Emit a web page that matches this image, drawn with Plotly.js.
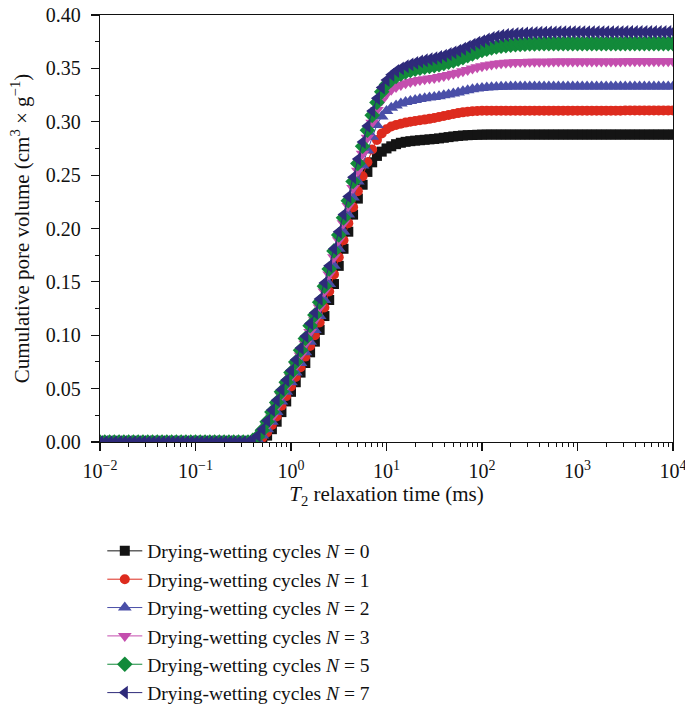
<!DOCTYPE html>
<html>
<head>
<meta charset="utf-8">
<script src="https://cdn.plot.ly/plotly-3.0.1.min.js"></script>
<style>html,body{margin:0;padding:0;background:#fff;}#chart{width:685px;height:712px;}</style>
</head>
<body>
<div id="chart"></div>
<script>
// T2 relaxation time (ms), 20 points per decade
var t2 = [
  0.01, 0.01122, 0.01259, 0.01413, 0.01585, 0.01778, 0.01995, 0.02239, 0.02512, 0.02818, 0.03162, 0.03548, 0.03981, 0.04467, 0.05012, 0.05623, 0.0631, 0.07079, 0.07943, 0.08913,
  0.1, 0.1122, 0.1259, 0.1413, 0.1585, 0.1778, 0.1995, 0.2239, 0.2512, 0.2818, 0.3162, 0.3548, 0.3981, 0.4467, 0.5012, 0.5623, 0.631, 0.7079, 0.7943, 0.8913,
  1, 1.122, 1.259, 1.413, 1.585, 1.778, 1.995, 2.239, 2.512, 2.818, 3.162, 3.548, 3.981, 4.467, 5.012, 5.623, 6.31, 7.079, 7.943, 8.913,
  10, 11.22, 12.59, 14.13, 15.85, 17.78, 19.95, 22.39, 25.12, 28.18, 31.62, 35.48, 39.81, 44.67, 50.12, 56.23, 63.1, 70.79, 79.43, 89.13,
  100, 112.2, 125.9, 141.3, 158.5, 177.8, 199.5, 223.9, 251.2, 281.8, 316.2, 354.8, 398.1, 446.7, 501.2, 562.3, 631, 707.9, 794.3, 891.3,
  1000, 1122, 1259, 1413, 1585, 1778, 1995, 2239, 2512, 2818, 3162, 3548, 3981, 4467, 5012, 5623, 6310, 7079, 7943, 8913,
  10000
];

var seriesNames = [
  'Drying-wetting cycles <i>N</i> = 0',
  'Drying-wetting cycles <i>N</i> = 1',
  'Drying-wetting cycles <i>N</i> = 2',
  'Drying-wetting cycles <i>N</i> = 3',
  'Drying-wetting cycles <i>N</i> = 5',
  'Drying-wetting cycles <i>N</i> = 7'
];

var volN0 = [
  0,0,0,0,0,0,0,0,0,0,0,0,0,0,0,0,0,0,0,0,
  0,0,0,0,0,0,0,0,0,0,0, 0,0,0.0005,0.002,0.006,0.012,0.019,0.028,0.038,
  0.047,0.056,0.065,0.074,0.084,0.094,0.105,0.118,0.133,0.148,0.165,0.181,0.197,0.213,0.228,0.241,0.253,0.262,0.268,0.272,
  0.275,0.277,0.279,0.2803,0.2812,0.2818,0.2823,0.2827,0.2831,0.2835,0.2839,0.2844,0.285,0.2856,0.2862,0.2867,0.2871,0.2874,0.2876,0.2878,
  0.2879,0.288,0.288,0.288,0.288,0.288,0.288,0.288,0.288,0.288,0.288,0.288,0.288,0.288,0.288,0.288,0.288,0.288,0.288,0.288,
  0.288,0.288,0.288,0.288,0.288,0.288,0.288,0.288,0.288,0.288,0.288,0.288,0.288,0.288,0.288,0.288,0.288,0.288,0.288,0.288,
  0.288
];
var volN1 = [
  0,0,0,0,0,0,0,0,0,0,0,0,0,0,0,0,0,0,0,0,
  0,0,0,0,0,0,0,0,0,0,0, 0,0.0003,0.001,0.004,0.009,0.016,0.024,0.034,0.043,
  0.052,0.061,0.070,0.080,0.090,0.100,0.112,0.126,0.141,0.157,0.173,0.189,0.205,0.220,0.235,0.249,0.262,0.274,0.283,0.289,
  0.293,0.2955,0.297,0.2982,0.2992,0.300,0.3007,0.3014,0.302,0.3027,0.3035,0.3044,0.3054,0.3064,0.3073,0.3081,0.3088,0.3094,0.3098,0.3101,
  0.3103,0.3104,0.3104,0.3104,0.3104,0.3104,0.3104,0.3104,0.3104,0.3104,0.3104,0.3104,0.3104,0.3104,0.3104,0.3104,0.3104,0.3104,0.3104,0.3104,
  0.3104,0.3104,0.3104,0.3104,0.3104,0.3104,0.3104,0.3104,0.3104,0.3104,0.3105,0.3105,0.3105,0.3105,0.3105,0.3105,0.3105,0.3105,0.3105,0.3105,
  0.3105
];
var volN2 = [
  0,0,0,0,0,0,0,0,0,0,0,0,0,0,0,0,0,0,0,0,
  0,0,0,0,0,0,0,0,0,0,0, 0,0.0005,0.002,0.006,0.012,0.019,0.028,0.038,0.047,
  0.056,0.065,0.074,0.084,0.094,0.105,0.118,0.133,0.148,0.165,0.181,0.197,0.213,0.229,0.244,0.259,0.273,0.286,0.297,0.305,
  0.310,0.313,0.3152,0.317,0.3184,0.3195,0.3204,0.3212,0.3219,0.3226,0.3233,0.324,0.3248,0.3256,0.3265,0.3275,0.3285,0.3295,0.3304,0.3311,
  0.3317,0.3321,0.3324,0.3326,0.3328,0.3329,0.333,0.333,0.333,0.333,0.333,0.333,0.333,0.333,0.333,0.333,0.333,0.333,0.333,0.333,
  0.333,0.333,0.333,0.333,0.333,0.333,0.333,0.333,0.333,0.333,0.333,0.333,0.333,0.333,0.333,0.333,0.333,0.333,0.333,0.333,
  0.3331
];
var volN3 = [
  0,0,0,0,0,0,0,0,0,0,0,0,0,0,0,0,0,0,0,0,
  0,0,0,0,0,0,0,0,0,0,0, 0,0.001,0.003,0.008,0.015,0.023,0.033,0.043,0.052,
  0.061,0.071,0.081,0.092,0.103,0.114,0.126,0.141,0.157,0.173,0.189,0.205,0.221,0.238,0.254,0.270,0.285,0.299,0.311,0.320,
  0.326,0.330,0.3325,0.3345,0.336,0.3372,0.3382,0.339,0.3397,0.3404,0.3411,0.3419,0.3428,0.3438,0.3449,0.346,0.3472,0.3485,0.3498,0.351,
  0.352,0.3529,0.3537,0.3543,0.3548,0.3552,0.3555,0.3557,0.3559,0.356,0.3561,0.3562,0.3562,0.3563,0.3563,0.3564,0.3564,0.3564,0.3565,0.3565,
  0.3565,0.3565,0.3565,0.3565,0.3565,0.3565,0.3565,0.3565,0.3565,0.3565,0.3566,0.3566,0.3566,0.3566,0.3566,0.3566,0.3566,0.3566,0.3566,0.3566,
  0.3566
];
var volN5 = [
  0,0,0,0,0,0,0,0,0,0,0,0,0,0,0,0,0,0,0,0,
  0,0,0,0,0,0,0,0,0,0,0, 0,0.0015,0.005,0.011,0.019,0.028,0.037,0.047,0.056,
  0.065,0.075,0.086,0.097,0.109,0.119,0.131,0.146,0.162,0.179,0.194,0.210,0.226,0.244,0.261,0.277,0.292,0.306,0.318,0.328,
  0.335,0.3395,0.3425,0.3448,0.3466,0.348,0.3492,0.3502,0.351,0.3518,0.3526,0.3535,0.3545,0.3557,0.357,0.3585,0.3601,0.3618,0.3635,0.3652,
  0.3667,0.368,0.3691,0.37,0.3707,0.3713,0.3718,0.3721,0.3724,0.3726,0.3728,0.3729,0.373,0.373,0.373,0.3731,0.3731,0.3731,0.3731,0.3731,
  0.3731,0.3731,0.3731,0.3731,0.3731,0.3731,0.3731,0.3731,0.3731,0.3731,0.3732,0.3732,0.3732,0.3732,0.3732,0.3732,0.3732,0.3732,0.3732,0.3732,
  0.3732
];
var volN7 = [
  0,0,0,0,0,0,0,0,0,0,0,0,0,0,0,0,0,0,0,0,
  0,0,0,0,0,0,0,0,0,0,0, 0,0.002,0.006,0.012,0.020,0.030,0.039,0.049,0.058,
  0.067,0.077,0.088,0.099,0.111,0.121,0.134,0.149,0.165,0.181,0.197,0.213,0.230,0.248,0.265,0.281,0.296,0.310,0.322,0.332,
  0.339,0.344,0.3475,0.350,0.352,0.3537,0.3552,0.3565,0.3576,0.3586,0.3596,0.3607,0.3619,0.3635,0.365,0.3666,0.3684,0.3703,0.3722,0.374,
  0.3755,0.377,0.3785,0.3797,0.3806,0.3813,0.3818,0.3822,0.3825,0.3828,0.383,0.3832,0.3834,0.3835,0.3836,0.3837,0.3838,0.3839,0.3839,0.384,
  0.384,0.384,0.384,0.384,0.384,0.384,0.384,0.384,0.384,0.384,0.3841,0.3841,0.3841,0.3841,0.3841,0.3841,0.3841,0.3841,0.3841,0.3841,
  0.3842
];

var xTickVals = [0.01, 0.1, 1, 10, 100, 1000, 10000];
var xTickText = ['10<sup>\u22122</sup>', '10<sup>\u22121</sup>', '10<sup>0</sup>', '10<sup>1</sup>', '10<sup>2</sup>', '10<sup>3</sup>', '10<sup>4</sup>'];

var allY = [volN0, volN1, volN2, volN3, volN5, volN7];
var colors = ['#141414', '#dd2b1e', '#4a4fa8', '#c44eae', '#128a3a', '#2e2a7a'];
var symbols = ['square', 'circle', 'triangle-up', 'triangle-down', 'diamond', 'triangle-left'];
var sizes = [10, 10, 12, 12, 12, 12];

var FONT = 'Liberation Serif, Times New Roman, serif';

var traces = allY.map(function (ys, i) {
  return {
    x: t2, y: ys, type: 'scatter', mode: 'lines+markers',
    name: seriesNames[i],
    line: {color: colors[i], width: 1},
    marker: {color: colors[i], symbol: symbols[i], size: sizes[i]}
  };
});

var layout = {
  width: 685, height: 712,
  margin: {l: 100, r: 12, t: 15, b: 270, autoexpand: false},
  paper_bgcolor: '#fff', plot_bgcolor: '#fff',
  font: {family: FONT, size: 20, color: '#111'},
  showlegend: true,
  legend: {
    x: 0.004, xanchor: 'left', y: -0.21, yanchor: 'top',
    font: {family: FONT, size: 19.5, color: '#111'},
    traceorder: 'normal',
    itemwidth: 35, bgcolor: 'rgba(0,0,0,0)'
  },
  xaxis: {
    type: 'log', range: [-2, 4], automargin: false,
    tickmode: 'array', tickvals: xTickVals, ticktext: xTickText,
    ticks: 'outside', ticklen: 8, tickwidth: 1.2, tickcolor: '#111',
    minor: {dtick: 'D1', ticks: 'outside', ticklen: 4, tickwidth: 1, tickcolor: '#111'},
    showline: true, linecolor: '#111', linewidth: 1.3, mirror: true,
    showgrid: false, zeroline: false,
    tickfont: {family: FONT, size: 20, color: '#111'},
    ticklabeloverflow: 'allow',
    ticklabelstandoff: 3,
    title: {text: '<i>T</i><sub>2</sub> relaxation time (ms)', font: {family: FONT, size: 21, color: '#111'}, standoff: 5}
  },
  yaxis: {
    range: [0, 0.4], dtick: 0.05, tickformat: '.2f', automargin: false,
    ticks: 'outside', ticklen: 8, tickwidth: 1.2, tickcolor: '#111',
    minor: {dtick: 0.025, ticks: 'outside', ticklen: 4, tickwidth: 1, tickcolor: '#111'},
    showline: true, linecolor: '#111', linewidth: 1.3, mirror: true,
    showgrid: false, zeroline: false,
    tickfont: {family: FONT, size: 20, color: '#111'},
    ticklabelstandoff: 6,
    title: {text: 'Cumulative pore volume (cm<sup>3</sup> \u00d7 g<sup>\u22121</sup>)', font: {family: FONT, size: 21, color: '#111'}, standoff: 10}
  }
};

Plotly.newPlot('chart', traces, layout, {displayModeBar: false, staticPlot: true});
</script>
</body>
</html>
